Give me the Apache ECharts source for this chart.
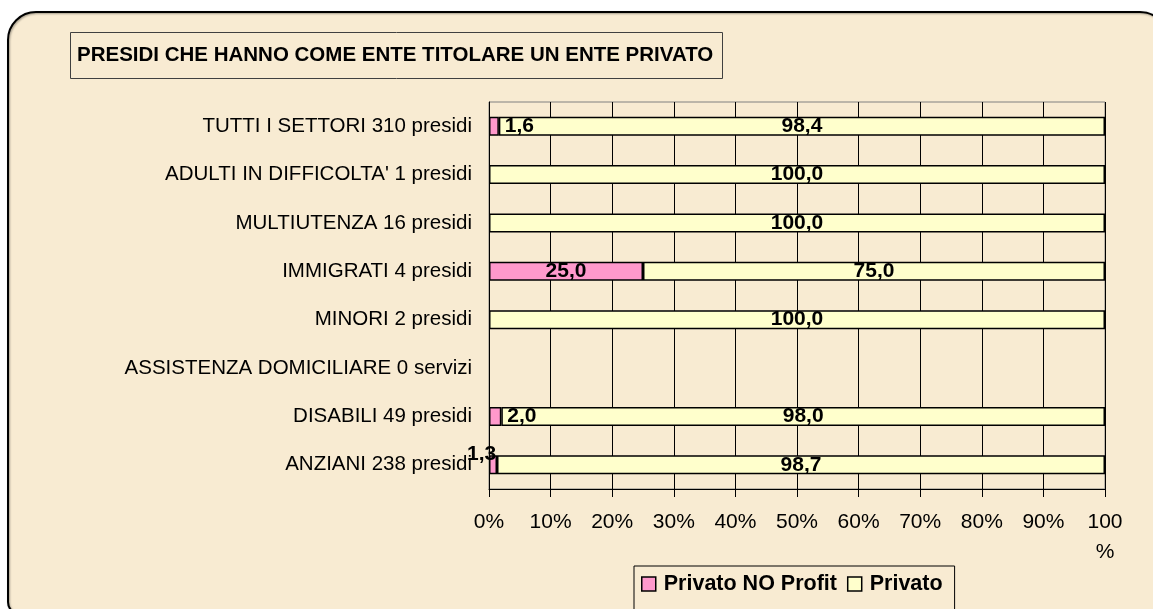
<!DOCTYPE html>
<html>
<head>
<meta charset="utf-8">
<script src="https://cdn.jsdelivr.net/npm/echarts@6/dist/echarts.min.js"></script>
<style>
html,body{margin:0;padding:0;background:#ffffff;}
#c{width:1153px;height:609px;}
</style>
</head>
<body>
<div id="c"></div>
<script>
var categories = [
  "TUTTI I SETTORI 310 presidi",
  "ADULTI IN DIFFICOLTA' 1 presidi",
  "MULTIUTENZA 16 presidi",
  "IMMIGRATI 4 presidi",
  "MINORI 2 presidi",
  "ASSISTENZA DOMICILIARE 0 servizi",
  "DISABILI 49 presidi",
  "ANZIANI 238 presidi"
];
var noProfit = [1.6, 0, 0, 25.0, 0, 0, 2.0, 1.3];
var privato = [98.4, 100.0, 100.0, 75.0, 100.0, 0, 98.0, 98.7];
var xTickLabels = ['0%', '10%', '20%', '30%', '40%', '50%', '60%', '70%', '80%', '90%', '100\n%'];

function fmt(v){ return v.toFixed(1).replace('.', ','); }

var FONT = 'Liberation Sans, Arial, sans-serif';
var chart = echarts.init(document.getElementById('c'), null, {renderer:'canvas'});

var noProfitData = noProfit.map(function(v, i){
  if (v === 0) return null;
  var item = {value: v};
  if (v < 5) {
    if (i === categories.length - 1) {
      item.label = {position: [-22, -12]};
    } else {
      item.label = {position: 'right', distance: 6};
    }
  }
  return item;
});
var privatoData = privato.map(function(v){ return v === 0 ? null : v; });

var labelStyle = {
  show: true,
  color: '#000',
  fontFamily: FONT,
  fontWeight: 'bold',
  fontSize: 21,
  formatter: function(p){ return p.value == null ? '' : fmt(p.value); }
};

chart.setOption({
  animation: false,
  backgroundColor: '#ffffff',
  graphic: [{
    type: 'rect',
    z: -10,
    shape: {x: 8, y: 12, width: 1160, height: 602, r: [28, 28, 12, 12]},
    style: {fill: '#F8EBD2', stroke: '#000', lineWidth: 2, shadowColor: 'rgba(0,0,0,0.35)', shadowBlur: 2, shadowOffsetX: 1, shadowOffsetY: 1}
  }],
  title: {
    text: 'PRESIDI CHE HANNO COME ENTE TITOLARE UN ENTE PRIVATO',
    left: 70, top: 32,
    padding: [13, 9, 13, 7],
    borderColor: '#404040', borderWidth: 1,
    textStyle: {fontFamily: FONT, fontWeight: 'bold', fontSize: 20.5, color: '#000'}
  },
  legend: {
    left: 634, top: 566,
    padding: [7, 12, 30, 7],
    borderColor: '#000', borderWidth: 1,
    itemWidth: 14, itemHeight: 14, itemGap: 10,
    icon: 'rect',
    itemStyle: {borderColor: '#000', borderWidth: 1.5},
    textStyle: {fontFamily: FONT, fontWeight: 'bold', fontSize: 21.5, color: '#000', padding: [0, 0, 0, 3]},
    data: ['Privato NO Profit', 'Privato']
  },
  grid: {
    left: 489, right: 48, top: 102, bottom: 120,
    show: true, borderColor: '#808080', borderWidth: 1, backgroundColor: 'transparent'
  },
  xAxis: {
    type: 'value', min: 0, max: 100, interval: 10,
    axisLine: {show: true, lineStyle: {color: '#000', width: 1}},
    axisTick: {show: true, length: 8, lineStyle: {color: '#000'}},
    splitLine: {show: true, lineStyle: {color: '#000', width: 1}},
    axisLabel: {
      margin: 18,
      color: '#000',
      fontFamily: FONT,
      fontSize: 21,
      lineHeight: 30,
      formatter: function(v){ return xTickLabels[Math.round(v / 10)]; }
    }
  },
  yAxis: {
    type: 'category', inverse: true, data: categories,
    axisLine: {show: true, lineStyle: {color: '#000', width: 1}},
    axisTick: {show: false},
    axisLabel: {
      margin: 17, color: '#000',
      fontFamily: FONT, fontSize: 20.5
    }
  },
  series: [{
    name: 'Privato NO Profit', type: 'bar', stack: 'tot',
    barWidth: 19,
    data: noProfitData,
    itemStyle: {color: '#FF99CC', borderColor: '#000', borderWidth: 1.5},
    label: Object.assign({}, labelStyle, {position: 'inside'})
  }, {
    name: 'Privato', type: 'bar', stack: 'tot',
    barWidth: 19,
    data: privatoData,
    itemStyle: {color: '#FFFFCC', borderColor: '#000', borderWidth: 1.5},
    label: Object.assign({}, labelStyle, {position: 'inside'})
  }]
});
</script>
</body>
</html>
